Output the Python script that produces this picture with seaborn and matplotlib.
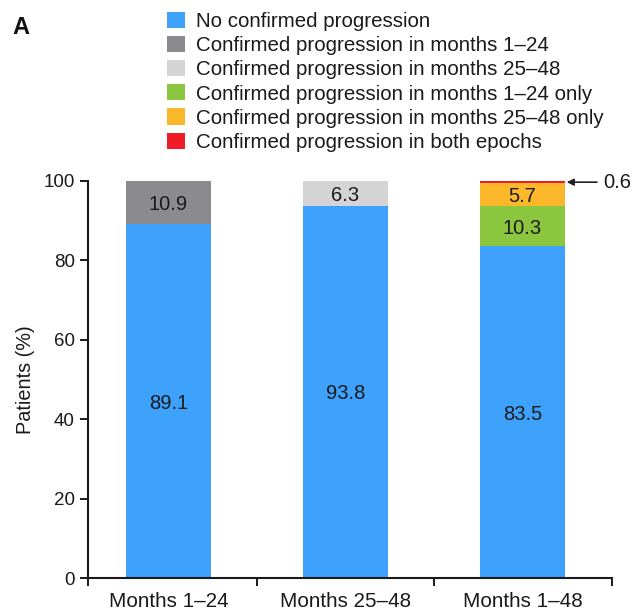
import matplotlib
matplotlib.use("Agg")
import matplotlib.pyplot as plt
from matplotlib.patches import Patch
import numpy as np
import pandas as pd
import seaborn as sns

sns.set_theme(style="ticks")
plt.rcParams["font.family"] = ["Liberation Sans", "DejaVu Sans"]

# Epochs shown on the x axis
periods = ["Months 1\u201324", "Months 25\u201348", "Months 1\u201348"]

# Stack components (bottom to top) and their percentages per epoch
segments = [
    "No confirmed progression",
    "Confirmed progression in months 1\u201324",
    "Confirmed progression in months 25\u201348",
    "Confirmed progression in months 1\u201324 only",
    "Confirmed progression in months 25\u201348 only",
    "Confirmed progression in both epochs",
]
no_progression = [89.1, 93.8, 83.5]
prog_1_24 = [10.9, 0.0, 0.0]
prog_25_48 = [0.0, 6.3, 0.0]
prog_1_24_only = [0.0, 0.0, 10.3]
prog_25_48_only = [0.0, 0.0, 5.7]
prog_both = [0.0, 0.0, 0.6]

colors = ["#3ea1fb", "#8b8b8f", "#d4d4d4", "#8cc63e", "#fcb72a", "#ee1c25"]

values = [no_progression, prog_1_24, prog_25_48, prog_1_24_only,
          prog_25_48_only, prog_both]

df = pd.DataFrame({"period": periods})
for name, vals in zip(segments, values):
    df[name] = vals
cum = df[segments].cumsum(axis=1)

INK = "#1a1a1a"

fig = plt.figure(figsize=(6.35, 6.11), dpi=100)
ax = fig.add_axes([0.1386, 0.054, 0.8252, 0.6498])

# Stacked bars: draw cumulative totals from the top layer down
for name, col in reversed(list(zip(segments, colors))):
    sns.barplot(x=df["period"], y=cum[name], color=col, width=0.48,
                linewidth=0, saturation=1, ax=ax, order=periods)

# Value labels centred in each visible segment
for i in range(len(periods)):
    base = 0.0
    for name in segments:
        v = df[name].iloc[i]
        if v >= 1.0:
            ax.text(i, base + v / 2, f"{v:.1f}", ha="center",
                    va="center_baseline", fontsize=14.5, color=INK)
        base += v

# Small top segment annotated with an arrow
top_val = prog_both[2]
ax.annotate(f"{top_val:.1f}", xy=(2.25, 100 - top_val / 2),
            xytext=(2.455, 100 - top_val / 2), textcoords="data",
            ha="left", va="center", fontsize=14.5, color=INK,
            arrowprops=dict(arrowstyle="-|>", color="#222222", lw=1.2,
                            mutation_scale=10, shrinkA=2, shrinkB=0),
            annotation_clip=False)

xmin, xmax = -0.455, 2.506
ax.set_xlim(xmin, xmax)
ax.set_ylim(0, 100)
ax.set_yticks([0, 20, 40, 60, 80, 100])
ax.set_xlabel("")
ax.set_ylabel("Patients (%)", fontsize=14.3, color=INK, labelpad=6)
ax.set_xticks([0, 1, 2])
ax.set_xticklabels(periods, fontsize=14.9, color=INK)
ax.set_xticks([xmin, 0.5, 1.5, xmax], minor=True)
ax.tick_params(axis="x", which="major", length=0, pad=10)
ax.tick_params(axis="x", which="minor", length=6, width=1.4, color=INK)
ax.tick_params(axis="y", length=6, width=1.4, labelsize=13.5,
               color=INK, labelcolor=INK)
for side in ("left", "bottom"):
    ax.spines[side].set_linewidth(1.5)
    ax.spines[side].set_color(INK)
sns.despine(ax=ax)

handles = [Patch(facecolor=c, edgecolor="none") for c in colors]
fig.legend(handles, segments, loc="upper left",
           bbox_to_anchor=(167 / 635, 1 - 12 / 611), frameon=False,
           fontsize=14.8, handlelength=0.88, handleheight=0.83,
           handletextpad=0.52, labelspacing=0.24, borderpad=0,
           borderaxespad=0, labelcolor=INK)

fig.text(12 / 635, 1 - 27 / 611, "A", fontsize=17, fontweight="bold",
         va="center", ha="left", color="#111111")

fig.savefig("out.png", dpi=100)
